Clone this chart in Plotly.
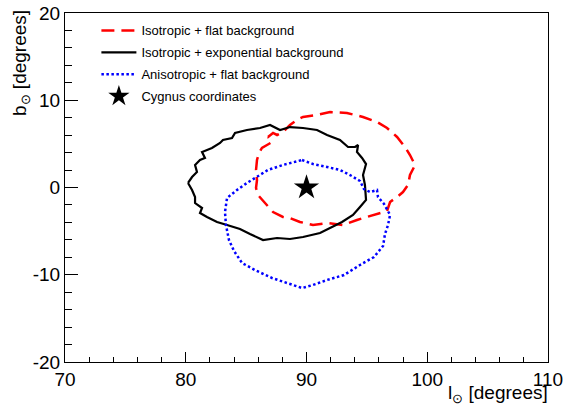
import plotly.graph_objects as go

# Isotropic + flat background (red dashed contour)
red_l = [86.81, 87.23, 87.56, 88.05, 88.63, 89.21, 89.71, 90.87, 91.95, 93.35, 94.68, 95.84, 96.67,
         97.50, 98.16, 98.57, 98.99, 98.57, 98.41, 97.99, 97.50, 96.92, 96.67, 95.51, 94.18, 93.02,
         91.70, 90.54, 89.46, 88.63, 88.05, 87.23, 86.56, 85.98, 85.82, 85.90, 85.82, 85.90, 86.07,
         86.31, 86.73, 87.14, 86.81]
red_b = [5.79, 6.25, 6.02, 6.36, 7.16, 7.74, 8.08, 8.31, 8.65, 8.54, 8.08, 7.51, 6.82,
         5.79, 4.64, 3.72, 2.58, 1.43, 0.29, -0.52, -1.09, -1.66, -2.69, -3.15, -3.72, -4.30,
         -4.07, -4.30, -3.95, -3.50, -3.38, -2.81, -1.78, -0.86, -0.06, 0.86, 2.01, 3.15, 3.95,
         4.53, 4.87, 5.21, 5.79]

# Isotropic + exponential background (black solid contour)
blk_l = [80.19, 80.52, 80.93, 80.77, 81.18, 81.59, 81.35, 82.17, 82.84, 83.08, 83.83, 84.08, 85.07,
         86.15, 86.98, 87.81, 88.63, 89.71, 90.87, 91.70, 92.77, 93.44, 94.02, 94.27, 94.18, 94.60,
         94.93, 94.68, 94.84, 94.93, 94.43, 93.85, 92.94, 91.95, 91.12, 89.71, 88.63, 87.56, 86.40,
         85.32, 84.49, 83.42, 82.59, 81.76, 81.18, 81.35, 80.77, 80.77, 80.52, 80.19]
blk_b = [0.52, 1.20, 1.78, 2.58, 3.15, 3.38, 4.07, 4.53, 5.10, 5.44, 5.67, 6.25, 6.59,
         6.82, 7.16, 6.59, 6.93, 6.82, 6.59, 6.02, 5.44, 4.64, 4.64, 4.87, 4.07, 3.38,
         2.69, 1.43, 0.29, -1.43, -2.23, -3.15, -3.95, -4.64, -5.21, -5.67, -5.90, -5.79, -6.02,
         -5.33, -4.76, -4.30, -3.95, -3.38, -2.92, -2.35, -1.78, -1.09, -0.29, 0.52]

# Anisotropic + flat background (blue dotted contour)
blu_l = [89.63, 90.54, 91.70, 92.77, 93.60, 94.43, 94.76, 95.26, 95.84, 95.92, 96.42, 96.92, 96.75,
         96.50, 96.34, 95.59, 94.43, 93.11, 91.70, 90.54, 89.63, 88.39, 87.14, 85.73, 84.66, 84.00,
         83.58, 83.33, 83.25, 83.42, 84.24, 85.07, 85.90, 86.81, 88.05, 88.80, 89.63]
blu_b = [3.15, 2.69, 2.35, 2.01, 1.43, 0.74, -0.17, -0.52, -0.29, -1.09, -1.89, -3.15, -4.30,
         -5.33, -6.70, -7.97, -8.88, -10.03, -10.60, -11.17, -11.52, -10.95, -10.37, -9.46, -8.65, -7.28,
         -6.02, -4.30, -2.81, -1.20, -0.29, 0.52, 1.20, 2.01, 2.58, 2.81, 3.15]

# Cygnus coordinates
cyg_l = [90.0]
cyg_b = [0.0]

names = ["Isotropic + flat background", "Isotropic + exponential background",
         "Anisotropic + flat background", "Cygnus coordinates"]

x_ticks = [70, 80, 90, 100, 110]
x_ticktext = ["70", "80", "90", "100", "110"]
y_ticks = [-20, -10, 0, 10, 20]
y_ticktext = ["-20", "-10", "0", "10", "20"]

FONT = "Liberation Sans, Arial, Helvetica, sans-serif"

fig = go.Figure()
fig.add_trace(go.Scatter(x=red_l, y=red_b, mode="lines", name=names[0], legendgroup="a",
                         line=dict(color="#ff0000", width=2.5, dash="13px,7px")))
fig.add_trace(go.Scatter(x=blk_l, y=blk_b, mode="lines", name=names[1], legendgroup="b",
                         line=dict(color="black", width=2.2)))
fig.add_trace(go.Scatter(x=blu_l, y=blu_b, mode="lines", name=names[2], legendgroup="c",
                         line=dict(color="#0000ff", width=2.5, dash="2.5px,2.5px")))
fig.add_trace(go.Scatter(x=cyg_l, y=cyg_b, mode="markers", name=names[3], legendgroup="d",
                         marker=dict(symbol="star", size=19, color="black")))

axis_common = dict(showgrid=False, zeroline=False, showline=True, linecolor="black", linewidth=1,
                   mirror=True, ticks="inside", tickcolor="black", tickwidth=1, automargin=False,
                   tickmode="array", ticklabeloverflow="allow",
                   tickfont=dict(family=FONT, size=19, color="black"))

fig.update_xaxes(range=[70, 110], tickvals=x_ticks, ticktext=x_ticktext, ticklen=10,
                 minor=dict(dtick=2, tick0=70, ticks="inside", ticklen=5, tickcolor="black"),
                 **axis_common)
fig.update_yaxes(range=[-20, 20], tickvals=y_ticks, ticktext=y_ticktext, ticklen=13,
                 minor=dict(dtick=2, tick0=-20, ticks="inside", ticklen=7, tickcolor="black"),
                 **axis_common)

fig.add_annotation(text="l<sub>⊙</sub> [degrees]", xref="paper", yref="paper", x=1, y=0,
                   xanchor="right", yanchor="top", yshift=-18, xshift=2, showarrow=False,
                   font=dict(family=FONT, size=19, color="black"))
fig.add_annotation(text="b<sub>⊙</sub> [degrees]", xref="paper", yref="paper", x=0, y=1,
                   xanchor="right", yanchor="top", textangle=-90, xshift=-30, yshift=5,
                   showarrow=False, font=dict(family=FONT, size=19, color="black"))

fig.update_layout(
    width=568, height=406,
    margin=dict(l=65, r=20, t=13, b=44, autoexpand=False),
    plot_bgcolor="white", paper_bgcolor="white",
    font=dict(family=FONT, color="black"),
    showlegend=True,
    legend=dict(x=0.065, y=0.993, xanchor="left", yanchor="top", bgcolor="rgba(0,0,0,0)",
                font=dict(family=FONT, size=13, color="black"), tracegroupgap=2,
                itemwidth=35),
)

fig.write_html("out.html", config={"displayModeBar": False},
               post_script="document.body.style.margin='0';")
